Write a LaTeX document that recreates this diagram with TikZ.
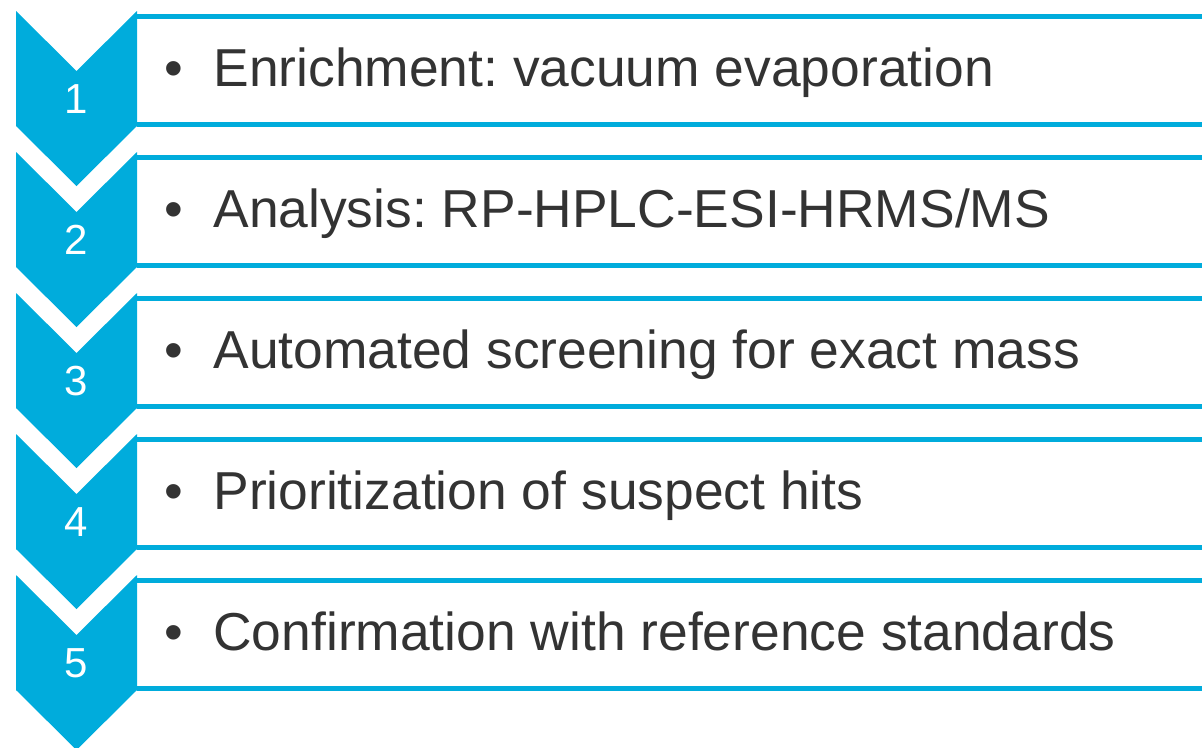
\documentclass[tikz,border=0pt]{standalone}
\usepackage{fontspec}
\setmainfont{Liberation Sans}
\frenchspacing
\definecolor{stepblue}{RGB}{0,172,220}
\definecolor{steptext}{RGB}{51,51,51}
\tikzset{
  chevron/.style={fill=stepblue, draw=none},
  boxline/.style={draw=stepblue, line width=5pt},
  numlabel/.style={text=white, font=\fontsize{42}{48}\selectfont, inner sep=0pt, anchor=base},
  steplabel/.style={text=steptext, font=\fontsize{53.4}{60}\selectfont, inner sep=0pt, anchor=base west}
}
\begin{document}
\begin{tikzpicture}
[x=1pt, y=-1pt]
\useasboundingbox (0,0) rectangle (1202,747);
\foreach \k/\txt in {1/{Enrichment: vacuum evaporation}, 2/{Analysis: RP-HPLC-ESI-HRMS/MS}, 3/{Automated screening for exact mass}, 4/{Prioritization of suspect hits}, 5/{Confirmation with reference standards}}{
  \pgfmathsetmacro\ytop{11+141*(\k-1)}
  \fill[chevron] (16,\ytop) -- ++(60.5,60) -- ++(60.5,-60) -- ++(0,115) -- ++(-60.5,60) -- ++(-60.5,-60) -- cycle;
  \draw[boxline] (137,\ytop+5.5) -- (1202,\ytop+5.5);
  \draw[boxline] (137,\ytop+113.5) -- (1202,\ytop+113.5);
  \node[numlabel] (num\k) at (76.5,\ytop+102) {\k};
  \node[steplabel] (step\k) at (164,\ytop+75) {\textbullet\hspace{30.5pt}\txt\strut};
}
\end{tikzpicture}
\end{document}
